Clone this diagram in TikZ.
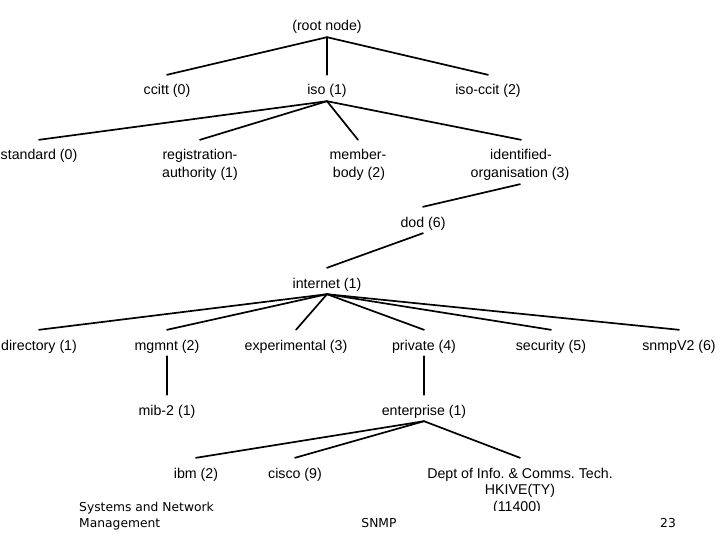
\documentclass[tikz,border=0pt]{standalone}
\usepackage{fontspec}
\setmainfont{Liberation Sans}
\newfontfamily\footfont{DejaVu Sans}
\begin{document}
\begin{tikzpicture}[x=1pt,y=-1pt,
  lbl/.style={anchor=base,inner sep=0pt,text height=20pt,text depth=6pt,font=\fontsize{14.2}{17}\selectfont},
  edge/.style={line width=1.7pt,line cap=round},
  foot/.style={inner sep=0pt,font=\footfont\fontsize{12.3}{15}\selectfont}]
\fill[white] (0,0) rectangle (720,540);
\useasboundingbox (0,0) rectangle (720,540);
% level 0
\node[lbl] (root) at (327,31) {(root node)};
% level 1
\node[lbl] (ccitt) at (167,95) {ccitt (0)};
\node[lbl] (iso) at (327,95) {iso (1)};
\node[lbl] (isoccit) at (488,95) {iso-ccit (2)};
% level 2
\node[lbl] (standard) at (39,160) {standard (0)};
\node[lbl] (regA) at (200,160) {registration-};
\node[lbl] (regB) at (200,178) {authority (1)};
\node[lbl] (memA) at (358,160) {member-};
\node[lbl] (memB) at (359,178) {body (2)};
\node[lbl] (idA) at (521,160) {identified-};
\node[lbl] (idB) at (520,178) {organisation (3)};
% dod, internet
\node[lbl] (dod) at (423,227) {dod (6)};
\node[lbl] (internet) at (327,288) {internet (1)};
% internet children
\node[lbl] (directory) at (39,350) {directory (1)};
\node[lbl] (mgmnt) at (167,350) {mgmnt (2)};
\node[lbl] (experimental) at (296,350) {experimental (3)};
\node[lbl] (private) at (424,350) {private (4)};
\node[lbl] (security) at (551,350) {security (5)};
\node[lbl] (snmpv2) at (679,350) {snmpV2 (6)};
% next level
\node[lbl] (mib) at (167,415) {mib-2 (1)};
\node[lbl] (enterprise) at (424,415) {enterprise (1)};
% enterprise children
\node[lbl] (ibm) at (196,478) {ibm (2)};
\node[lbl] (cisco) at (295,478) {cisco (9)};
\node[lbl] (deptA) at (520,478) {Dept of Info.\ \& Comms.\ Tech.};
\node[lbl] (deptB) at (520,494) {HKIVE(TY)};
\begin{scope}
\clip (400,400) rectangle (640,510);
\node[lbl] (deptC) at (517,511) {(11400)};
\end{scope}
% connectors
\draw[edge] (root.south) -- (ccitt.north);
\draw[edge] (root.south) -- (iso.north);
\draw[edge] (root.south) -- (isoccit.north);
\draw[edge] (iso.south) -- (standard.north);
\draw[edge] (iso.south) -- (regA.north);
\draw[edge] (iso.south) -- (memA.north);
\draw[edge] (iso.south) -- (idA.north);
\draw[edge] (idB.south) -- (dod.north);
\draw[edge] (dod.south) -- (internet.north);
\foreach \c in {directory,mgmnt,experimental,private,security,snmpv2}
  \draw[edge] (internet.south) -- (\c.north);
\draw[edge] (mgmnt.south) -- (mib.north);
\draw[edge] (private.south) -- (enterprise.north);
\draw[edge] (enterprise.south) -- (ibm.north);
\draw[edge] (enterprise.south) -- (cisco.north);
\draw[edge] (enterprise.south) -- (deptA.north);
% footer
\node[foot,anchor=base west] (sys1) at (79,511) {Systems and Network};
\node[foot,anchor=base west] (sys2) at (79,527) {Management};
\node[foot,anchor=base] (snmp) at (379,527) {SNMP};
\node[foot,anchor=base] (page) at (668,527) {23};
\end{tikzpicture}
\end{document}
